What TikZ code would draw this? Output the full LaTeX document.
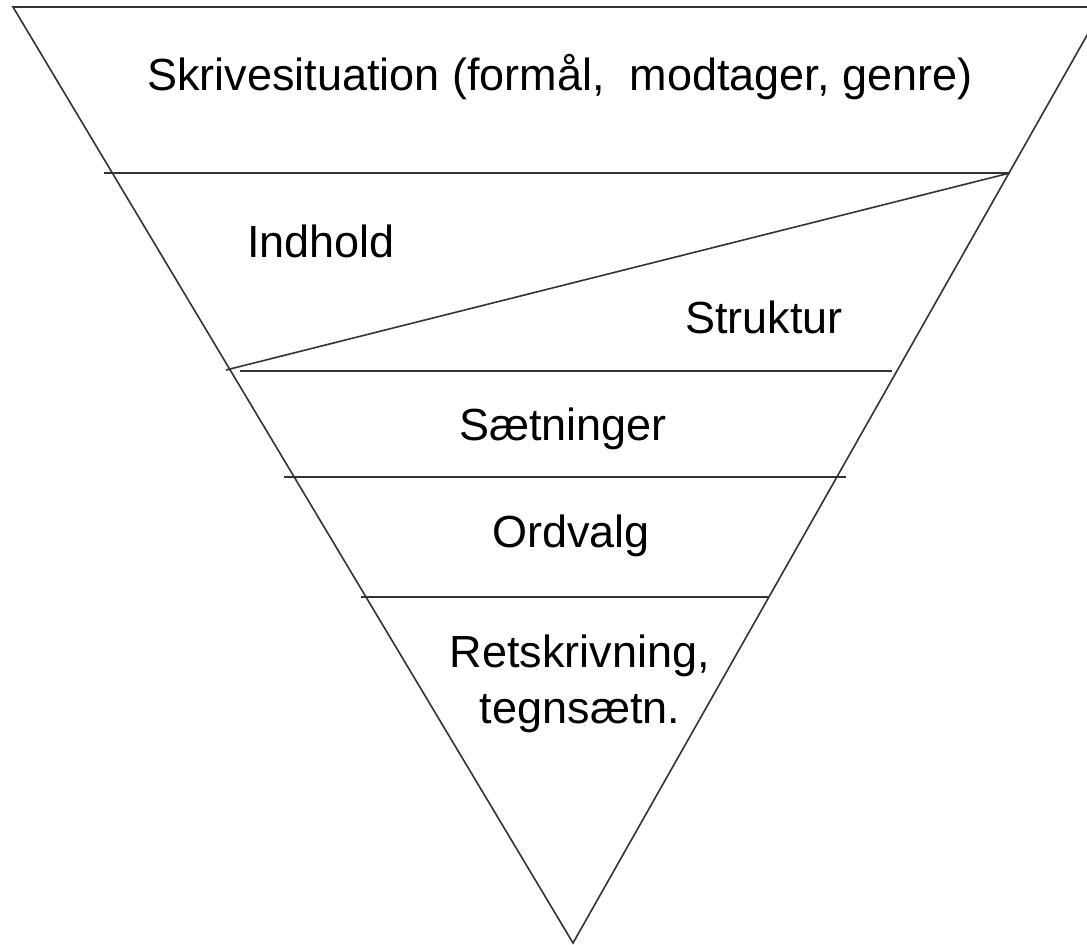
\documentclass[tikz,border=0pt]{standalone}
\usepackage{fontspec}
\setmainfont{Liberation Sans}
\usetikzlibrary{positioning}

\begin{document}
\begin{tikzpicture}[x=1pt,y=-1pt,
  lag/.style={line width=1.6pt,black!80},
  felt/.style={font=\fontsize{45}{56}\selectfont,inner sep=0pt,anchor=base}]
 \clip (0,0) rectangle (1087,945);
 \coordinate (tl) at (13,7);
 \coordinate (tr) at (1103,7);
 \coordinate (bund) at (573,943);
 \draw[lag] (tl)--(tr)--(bund)--cycle;
 \draw[lag] (104,173)--(1010,173);
 \draw[lag] (1010,173)--(226,370);
 \draw[lag] (240,371)--(892,371);
 \draw[lag] (284,477)--(846,477);
 \draw[lag] (361,597)--(769,597);
 \node[felt] (situation) at (560,90) {Skrivesituation (formål,\ \ modtager, genre)};
 \node[felt] (indhold) at (321,257) {Indhold};
 \node[felt] (struktur) at (764,333) {Struktur};
 \node[felt] (saetninger) at (563,440) {Sætninger};
 \node[felt] (ordvalg) at (571,547) {Ordvalg};
 \node[felt,align=center] (retskrivning) at (580,723) {Retskrivning,\\tegnsætn.};
\end{tikzpicture}
\end{document}
